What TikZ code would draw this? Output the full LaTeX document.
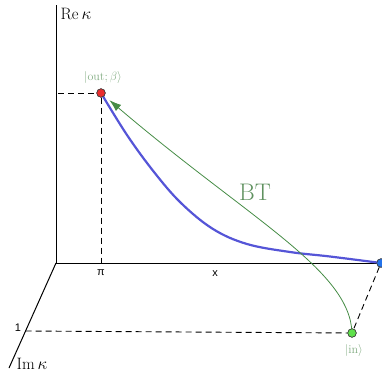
\documentclass[tikz,border=0pt]{standalone}
\usepackage{fontspec}
\newfontfamily\labfont{Liberation Sans}
\usetikzlibrary{arrows.meta}
\definecolor{blueline}{RGB}{85,85,215}
\definecolor{arrowgreen}{RGB}{70,140,70}
\definecolor{btgreen}{RGB}{95,145,95}
\definecolor{ketgreen}{RGB}{130,172,130}
\definecolor{reddot}{RGB}{235,45,45}
\definecolor{bluedot}{RGB}{35,115,235}
\definecolor{greendot}{RGB}{95,225,75}
\tikzset{
  axisline/.style={line width=1pt, black},
  guide/.style={line width=0.9pt, black, dash pattern=on 6pt off 4pt},
  dot/.style={circle, draw=black!75, line width=0.6pt, minimum size=8.5pt, inner sep=0pt},
  ket/.style={text=ketgreen, font=\fontsize{12}{14}\selectfont},
  axlabel/.style={font=\fontsize{16.5}{18}\selectfont},
  ticklabel/.style={font=\labfont\fontsize{11}{13}\selectfont},
}
\begin{document}
\begin{tikzpicture}[x=1pt,y=-1pt]
\useasboundingbox (0,0) rectangle (382,378);
% axes
\coordinate (O) at (56,263);
\coordinate (Ytop) at (56,5);
\coordinate (Xend) at (382,263);
\coordinate (Zend) at (9,368);
\coordinate (Z1) at (25.6,331);
\coordinate (Pi) at (101,263);
\coordinate (Rey) at (58,93);
\draw[axisline] (Ytop) -- (O) -- (Xend);
\draw[axisline] (O) -- (Zend);
% dots
\node[dot, fill=reddot] (R) at (101,93) {};
\node[dot, fill=bluedot] (B) at (381,263) {};
\node[dot, fill=greendot] (G) at (352,333) {};
% guides
\draw[guide] (Rey) -- (R);
\draw[guide] (R) -- (Pi);
\draw[guide] (Z1) -- (G);
\draw[guide] (B) -- (G);
% blue curve
\draw[blueline, line width=2.2pt] plot[smooth, tension=0.6] coordinates {(R.center) (127,135) (154,172) (181,203) (213,229) (247,244) (290,252) (330,256.5) (B.center)};
% green arrow
\draw[arrowgreen, line width=0.8pt, -{Latex[length=12pt,width=8pt]}, shorten >=11pt] (G.center) .. controls (350,270) and (250,220) .. (R.center);
% redraw dots on top
\node[dot, fill=reddot] at (R) {};
\node[dot, fill=bluedot] at (B) {};
\node[dot, fill=greendot] at (G) {};
% labels
\node[axlabel] (relabel) at (76,14) {$\mathrm{Re}\,\kappa$};
\node[axlabel] (imlabel) at (32,364) {$\mathrm{Im}\,\kappa$};
\node[ket] (outlabel) at (103,77) {$|\mathrm{out};\beta\rangle$};
\node[ket] (inlabel) at (354,350) {$|\mathrm{in}\rangle$};
\node[text=btgreen, font=\fontsize{24}{26}\selectfont] (bt) at (255,192) {BT};
\node[ticklabel] (pilabel) at (101,273) {π};
\node[ticklabel] (xlabel) at (215,274) {x};
\node[ticklabel] (onelabel) at (18,328) {1};
\end{tikzpicture}
\end{document}
